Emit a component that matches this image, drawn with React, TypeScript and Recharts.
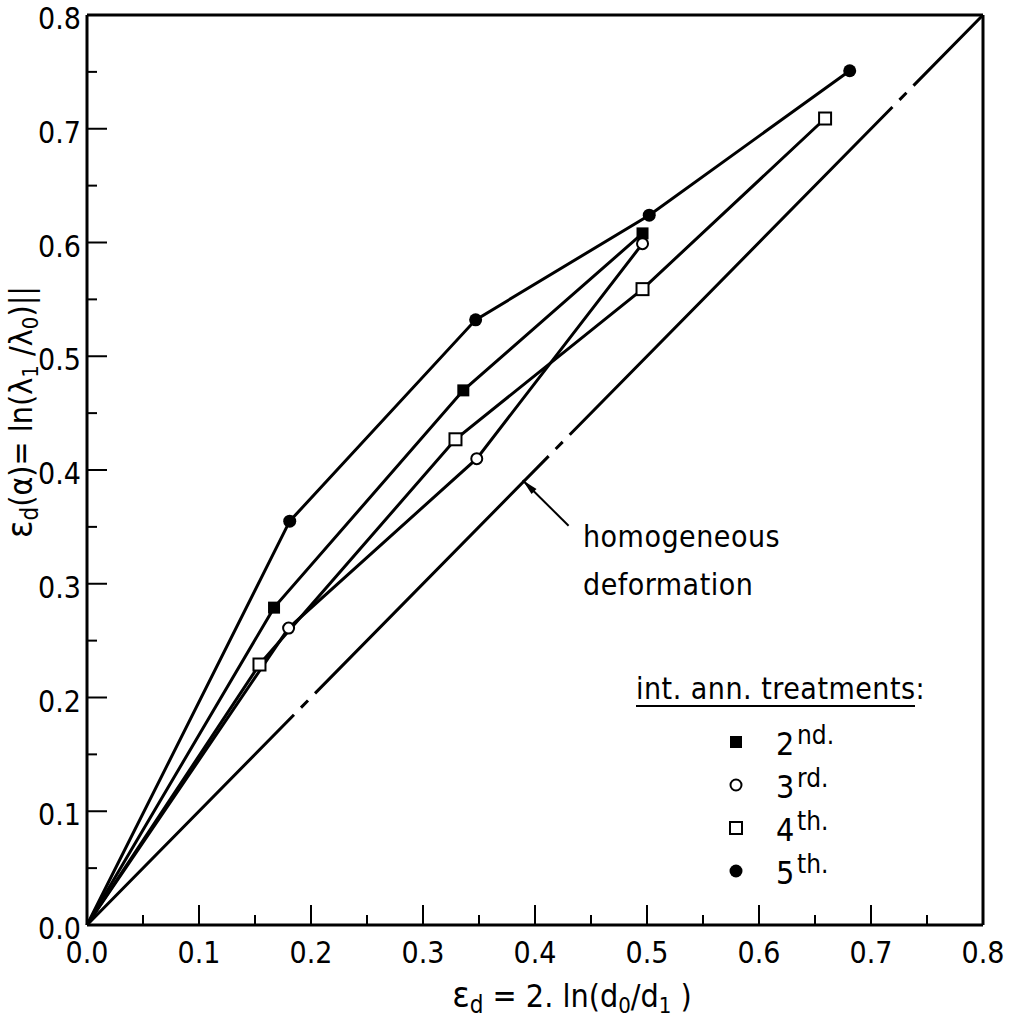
import React from "react"
import { LineChart, Line, XAxis, YAxis, ReferenceLine } from "recharts"

// int. ann. treatments
const second = [
  { x: 0, y: 0 },
  { x: 0.167, y: 0.279 },
  { x: 0.336, y: 0.47 },
  { x: 0.496, y: 0.608 },
]
const third = [
  { x: 0, y: 0 },
  { x: 0.18, y: 0.261 },
  { x: 0.348, y: 0.41 },
  { x: 0.496, y: 0.599 },
]
const fourth = [
  { x: 0, y: 0 },
  { x: 0.154, y: 0.229 },
  { x: 0.329, y: 0.427 },
  { x: 0.496, y: 0.559 },
  { x: 0.659, y: 0.709 },
]
const fifth = [
  { x: 0, y: 0 },
  { x: 0.181, y: 0.355 },
  { x: 0.347, y: 0.532 },
  { x: 0.502, y: 0.624 },
  { x: 0.681, y: 0.751 },
]
const homogeneous = [
  { x: 0, y: 0 },
  { x: 0.8, y: 0.8 },
]

const ticks = [0, 0.05, 0.1, 0.15, 0.2, 0.25, 0.3, 0.35, 0.4, 0.45, 0.5, 0.55, 0.6, 0.65, 0.7, 0.75, 0.8]
const arrowFrom = { x: 0.389, y: 0.391 }
const arrowTo = { x: 0.43, y: 0.351 }

const FONT = "'DejaVu Sans Condensed', 'DejaVu Sans', sans-serif"
const INK = "#000"
const txt = { fontStretch: "condensed" as const }

const isMajor = (v: number) => Math.round(v * 100) % 10 === 0

const BottomTick = ({ x, y, payload }: any) => {
  const v = payload.value
  const major = isMajor(v)
  return (
    <g>
      <line x1={x} x2={x} y1={y} y2={y - (major ? 20 : 10)} stroke={INK} strokeWidth={2} />
      {major && (
        <text x={x} y={y + 38} textAnchor="middle" fontFamily={FONT} fontSize={30} fill={INK} style={txt}>
          {v.toFixed(1)}
        </text>
      )}
    </g>
  )
}

const TopTick = ({ x, y, payload }: any) => {
  const major = isMajor(payload.value)
  return <line x1={x} x2={x} y1={y} y2={y + (major ? 20 : 10)} stroke={INK} strokeWidth={2} />
}

const LeftTick = ({ x, y, payload }: any) => {
  const v = payload.value
  const major = isMajor(v)
  return (
    <g>
      <line x1={x} x2={x + (major ? 20 : 10)} y1={y} y2={y} stroke={INK} strokeWidth={2} />
      {major && (
        <text x={x - 6} y={y + 14} textAnchor="end" fontFamily={FONT} fontSize={30} fill={INK} style={txt}>
          {v.toFixed(1)}
        </text>
      )}
    </g>
  )
}

const RightTick = ({ x, y, payload }: any) => {
  const major = isMajor(payload.value)
  return <line x1={x} x2={x - (major ? 20 : 10)} y1={y} y2={y} stroke={INK} strokeWidth={2} />
}

const skipOrigin = (draw: (cx: number, cy: number) => React.ReactElement) => (props: any) => {
  const { cx, cy, index } = props
  if (index === 0 || cx == null) return <g key={`d-${index}`} />
  return <g key={`d-${index}`}>{draw(cx, cy)}</g>
}

const filledSquare = (cx: number, cy: number) => <rect x={cx - 6} y={cy - 6} width={12} height={12} fill={INK} />
const openCircle = (cx: number, cy: number) => <circle cx={cx} cy={cy} r={5.5} fill="#fff" stroke={INK} strokeWidth={2} />
const openSquare = (cx: number, cy: number) => (
  <rect x={cx - 6} y={cy - 6} width={12} height={12} fill="#fff" stroke={INK} strokeWidth={2} />
)
const filledCircle = (cx: number, cy: number) => <circle cx={cx} cy={cy} r={6.5} fill={INK} />

const Arrow = (props: any) => {
  const { x1, y1, x2, y2 } = props
  const dx = x2 - x1
  const dy = y2 - y1
  const len = Math.hypot(dx, dy)
  const ux = dx / len
  const uy = dy / len
  const bx = x1 + ux * 16
  const by = y1 + uy * 16
  return (
    <g>
      <line x1={x1} y1={y1} x2={x2} y2={y2} stroke={INK} strokeWidth={2} />
      <path d={`M${x1},${y1} L${bx - uy * 3.5},${by + ux * 3.5} L${bx + uy * 3.5},${by - ux * 3.5} Z`} fill={INK} />
    </g>
  )
}

const legendRows = [
  { base: "2", sup: "nd.", mark: filledSquare },
  { base: "3", sup: "rd.", mark: openCircle },
  { base: "4", sup: "th.", mark: openSquare },
  { base: "5", sup: "th.", mark: filledCircle },
]

export default function App() {
  return (
    <div style={{ position: "absolute", left: 0, top: 0, width: 1014, height: 1029, background: "#fff" }}>
      <LineChart width={1014} height={1029} margin={{ top: 14, right: 30, left: 27, bottom: 54 }}>
        <XAxis
          xAxisId="b"
          dataKey="x"
          type="number"
          domain={[0, 0.8]}
          ticks={ticks}
          height={50}
          tickSize={0}
          tickMargin={0}
          tickLine={false}
          tick={<BottomTick />}
          axisLine={{ stroke: INK, strokeWidth: 3 }}
          interval={0}
        />
        <XAxis
          xAxisId="t"
          orientation="top"
          dataKey="x"
          type="number"
          domain={[0, 0.8]}
          ticks={ticks}
          height={1}
          tickSize={0}
          tickMargin={0}
          tickLine={false}
          tick={<TopTick />}
          axisLine={{ stroke: INK, strokeWidth: 3 }}
          interval={0}
        />
        <YAxis
          yAxisId="l"
          type="number"
          domain={[0, 0.8]}
          ticks={ticks}
          width={60}
          tickSize={0}
          tickMargin={0}
          tickLine={false}
          tick={<LeftTick />}
          axisLine={{ stroke: INK, strokeWidth: 3 }}
          interval={0}
        />
        <YAxis
          yAxisId="r"
          orientation="right"
          type="number"
          domain={[0, 0.8]}
          ticks={ticks}
          width={1}
          tickSize={0}
          tickMargin={0}
          tickLine={false}
          tick={<RightTick />}
          axisLine={{ stroke: INK, strokeWidth: 3 }}
          interval={0}
        />
        <Line
          xAxisId="b"
          yAxisId="l"
          data={homogeneous}
          dataKey="y"
          stroke={INK}
          strokeWidth={3}
          strokeDasharray="295 10 10 10 333 10 10 10 460 10 10 10 400"
          dot={false}
          isAnimationActive={false}
        />
        <Line xAxisId="b" yAxisId="l" data={second} dataKey="y" stroke={INK} strokeWidth={3} dot={skipOrigin(filledSquare)} isAnimationActive={false} />
        <Line xAxisId="b" yAxisId="l" data={third} dataKey="y" stroke={INK} strokeWidth={3} dot={skipOrigin(openCircle)} isAnimationActive={false} />
        <Line xAxisId="b" yAxisId="l" data={fourth} dataKey="y" stroke={INK} strokeWidth={3} dot={skipOrigin(openSquare)} isAnimationActive={false} />
        <Line xAxisId="b" yAxisId="l" data={fifth} dataKey="y" stroke={INK} strokeWidth={3} dot={skipOrigin(filledCircle)} isAnimationActive={false} />
        <ReferenceLine xAxisId="b" yAxisId="l" segment={[arrowFrom, arrowTo]} shape={<Arrow />} ifOverflow="visible" />
      </LineChart>

      <svg width={1014} height={1029} style={{ position: "absolute", left: 0, top: 0, pointerEvents: "none" }}>
        <g fontFamily={FONT} fill={INK} style={txt}>
          <text x={583} y={547} fontSize={30} letterSpacing={0.5}>homogeneous</text>
          <text x={583} y={595} fontSize={30} letterSpacing={0.5}>deformation</text>

          <text x={636} y={699} fontSize={30} letterSpacing={0.5}>int. ann. treatments:</text>
          <line x1={636} x2={915} y1={706} y2={706} stroke={INK} strokeWidth={2} />
          {legendRows.map((r, i) => {
            const cy = 742 + i * 43
            return (
              <g key={r.base}>
                {r.mark(736, cy)}
                <text x={776} y={cy + 13} fontSize={32}>{r.base}</text>
                <text x={797} y={cy + 2} fontSize={26}>{r.sup}</text>
              </g>
            )
          })}

          <text x={572} y={1007} textAnchor="middle" fontSize={32}>
            <tspan fontSize={36}>ε</tspan>
            <tspan fontSize={24} dy={6}>d</tspan>
            <tspan dy={-6}> = 2. ln(d</tspan>
            <tspan fontSize={22} dy={6}>0</tspan>
            <tspan dy={-6}>/d</tspan>
            <tspan fontSize={22} dy={6}>1</tspan>
            <tspan dy={-6}> )</tspan>
          </text>

          <text transform="translate(32,412) rotate(-90)" textAnchor="middle" fontSize={32}>
            <tspan fontSize={36}>ε</tspan>
            <tspan fontSize={24} dy={6}>d</tspan>
            <tspan dy={-6}>(α)= ln(λ</tspan>
            <tspan fontSize={22} dy={6}>1</tspan>
            <tspan dy={-6}> /λ</tspan>
            <tspan fontSize={22} dy={6}>0</tspan>
            <tspan dy={-6}>)||</tspan>
          </text>
        </g>
      </svg>
    </div>
  )
}
